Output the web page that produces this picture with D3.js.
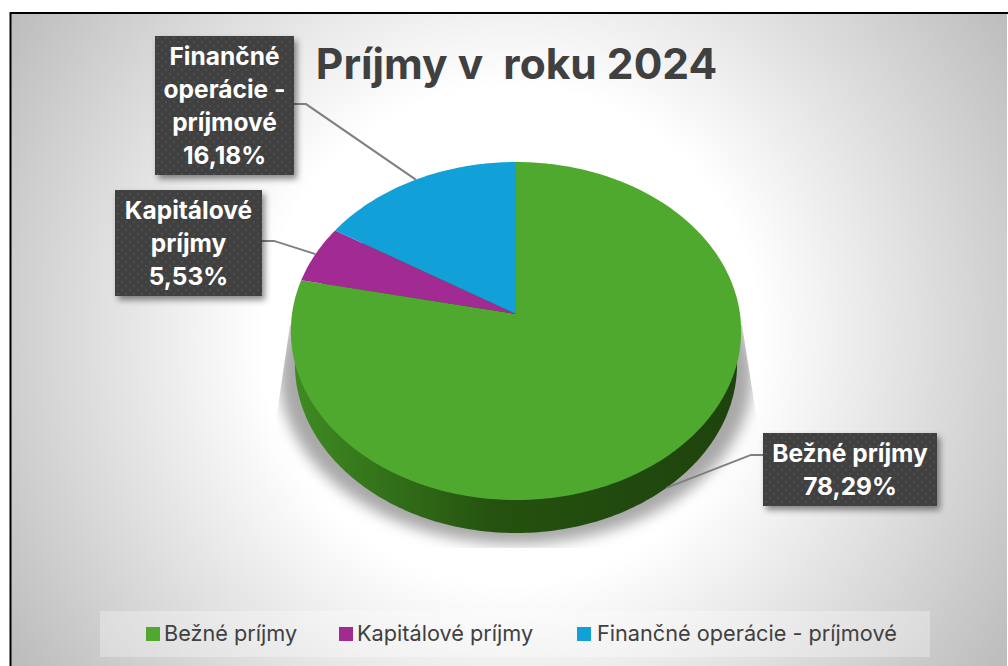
<!DOCTYPE html>
<meta charset="utf-8">
<style>
    html, body { margin: 0; padding: 0; background: #fff; }
    svg { display: block; }
    text { font-family: Inter, "Noto Sans", sans-serif; }
    .title { font-size: 42.5px; font-weight: 700; fill: #404040; }
    .tag { font-size: 24.5px; font-weight: 700; fill: #fff; text-anchor: middle; }
    .legend text { font-size: 21.7px; fill: #404040; }
    .leader { fill: none; stroke: #7f7f7f; stroke-width: 2px; }
</style>
<body>
<script src="https://d3js.org/d3.v7.min.js"></script>
<script>
    // values
    var categories = ["Bežné príjmy", "Kapitálové príjmy", "Finančné operácie - príjmové"];
    var shares = [78.29, 5.53, 16.18];
    var sliceColors = ["#4fa92f", "#a22b93", "#11a0d8"];
    var tagLines = [["Bežné príjmy", "78,29%"], ["Kapitálové", "príjmy", "5,53%"], ["Finančné", "operácie -", "príjmové", "16,18%"]];

    var width = 1008, height = 666;

    var svg = d3.select("body").append("svg")
        .attr("width", width)
        .attr("height", height);

    var defs = svg.append("defs");

    // page background
    var bg = defs.append("radialGradient").attr("id", "bg")
        .attr("gradientUnits", "userSpaceOnUse")
        .attr("cx", 510).attr("cy", 335).attr("r", 590);
    bg.append("stop").attr("offset", "0.42").attr("stop-color", "#ffffff");
    bg.append("stop").attr("offset", "1").attr("stop-color", "#bdbdbd");

    // side of the pie
    var wall = defs.append("linearGradient").attr("id", "wall")
        .attr("gradientUnits", "userSpaceOnUse")
        .attr("x1", 291).attr("x2", 741).attr("y1", 0).attr("y2", 0);
    wall.append("stop").attr("offset", "0").attr("stop-color", "#3f8c23");
    wall.append("stop").attr("offset", "0.45").attr("stop-color", "#25520f");
    wall.append("stop").attr("offset", "1").attr("stop-color", "#1e420d");

    var blur = defs.append("filter").attr("id", "blur")
        .attr("x", "-20%").attr("y", "-20%").attr("width", "140%").attr("height", "140%");
    blur.append("feGaussianBlur").attr("stdDeviation", 7);

    var tagShadow = defs.append("filter").attr("id", "tagShadow")
        .attr("x", "-20%").attr("y", "-20%").attr("width", "140%").attr("height", "140%");
    tagShadow.append("feDropShadow").attr("dx", 3).attr("dy", 4).attr("stdDeviation", 3)
        .attr("flood-color", "#000").attr("flood-opacity", 0.45);

    var dots = defs.append("pattern").attr("id", "dots")
        .attr("patternUnits", "userSpaceOnUse").attr("width", 8).attr("height", 8);
    dots.append("rect").attr("width", 8).attr("height", 8).attr("fill", "#3f3f3f");
    dots.append("circle").attr("cx", 2).attr("cy", 2).attr("r", 1).attr("fill", "#525252");
    dots.append("circle").attr("cx", 6).attr("cy", 6).attr("r", 1).attr("fill", "#525252");

    defs.append("clipPath").attr("id", "shadowClip").append("path")
        .attr("d", "M290,325L742,325L757,420L757,548L276,548L276,420Z");

    svg.append("rect")
        .attr("x", 10).attr("y", 13)
        .attr("width", width - 11).attr("height", height - 13)
        .attr("fill", "url(#bg)");

    // tilted disc: the projected circle has its centre above the middle of the ellipse
    var cx = 516, cy = 314, rx = 224, ry = 167.3, tilt = 0.1006, depth = 33;

    function project(angle, scaleX, dy) {
        var u = Math.sin(angle), v = Math.cos(angle), w = 1 + tilt * v;
        return [cx + scaleX * rx * u / w, cy + dy - ry * v / w];
    }

    var line = d3.line();
    function rim(a0, a1, scaleX, dy) {
        var n = Math.max(2, Math.ceil((a1 - a0) * 60));
        return d3.range(n + 1).map(function(i) {
            return project(a0 + (a1 - a0) * i / n, scaleX, dy);
        });
    }

    var slices = d3.pie().sort(null)(shares);

    // shadow under the pie
    svg.append("g").attr("clip-path", "url(#shadowClip)")
        .append("path")
        .attr("d", line(rim(0, 2 * Math.PI, 1.05, 44)) + "Z")
        .attr("fill", "#a8a8a8")
        .attr("filter", "url(#blur)");

    // side wall
    svg.append("path")
        .attr("d", line(rim(0, 2 * Math.PI, 0.982, depth)) + "Z")
        .attr("fill", "url(#wall)");

    // top face
    svg.selectAll(".slice").data(slices).enter().append("path")
        .attr("class", "slice")
        .attr("d", function(d) {
            return line([[cx, cy]].concat(rim(d.startAngle, d.endAngle, 1, 0))) + "Z";
        })
        .attr("fill", function(d, i) { return sliceColors[i]; });

    // data tags, each with its leader line
    var tagBoxes = [[763, 433, 174, 73], [115, 190, 147, 106], [155, 36, 139, 139]];
    var tagAnchors = [[-1, 0.3], [1, 0.48], [1, 0.49]];
    var lineHeight = 33;

    slices.forEach(function(d, i) {
        var b = tagBoxes[i];
        var mid = (d.startAngle + d.endAngle) / 2;
        // the big slice's leader lands on the lower rim
        var end = i === 0 ? project(mid, 0.982, depth) : project(mid, 1, 0);
        var sx = tagAnchors[i][0] < 0 ? b[0] : b[0] + b[2];
        var sy = b[1] + b[3] * tagAnchors[i][1];
        var elbow = sx + (tagAnchors[i][0] < 0 ? -12 : 12);
        svg.append("path").attr("class", "leader")
            .attr("d", line([[sx, sy], [elbow, sy], end]));

        svg.append("rect")
            .attr("x", b[0]).attr("y", b[1]).attr("width", b[2]).attr("height", b[3])
            .attr("fill", "url(#dots)")
            .attr("filter", "url(#tagShadow)");

        var rows = tagLines[i];
        var top = b[1] + b[3] / 2 - (rows.length - 1) * lineHeight / 2;
        rows.forEach(function(row, j) {
            svg.append("text").attr("class", "tag")
                .attr("x", b[0] + b[2] / 2)
                .attr("y", top + j * lineHeight + 8.5)
                .text(row);
        });
    });

    svg.append("text").attr("class", "title")
        .attr("x", 516.5).attr("y", 79)
        .attr("text-anchor", "middle")
        .style("white-space", "pre")
        .text("Príjmy v  roku 2024");

    // legend
    svg.append("rect")
        .attr("x", 100).attr("y", 611).attr("width", 830).attr("height", 46)
        .attr("fill", "#fff").attr("fill-opacity", 0.3);

    var legendX = [146, 339, 577];
    var legend = svg.append("g").attr("class", "legend");
    categories.forEach(function(c, i) {
        legend.append("rect")
            .attr("x", legendX[i]).attr("y", 627)
            .attr("width", 14).attr("height", 14)
            .attr("fill", sliceColors[i]);
        legend.append("text")
            .attr("x", legendX[i] + (i === 2 ? 20 : 18)).attr("y", 641)
            .text(c);
    });

    // frame
    svg.append("path")
        .attr("d", "M10.5,666L10.5,13L1008,13")
        .attr("fill", "none").attr("stroke", "#000").attr("stroke-width", 2);
</script>
</body>
